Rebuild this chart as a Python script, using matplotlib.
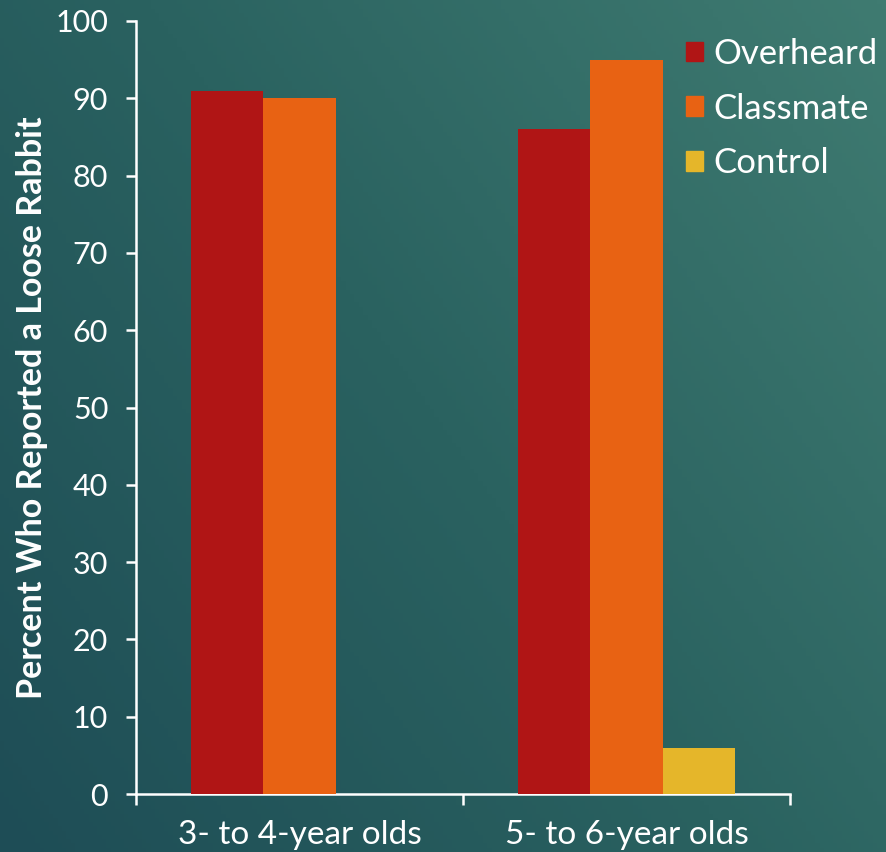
import numpy as np
import matplotlib
matplotlib.use("Agg")
from matplotlib import pyplot as plt
from matplotlib.patches import Patch
from matplotlib.colors import LinearSegmentedColormap

plt.rcParams['font.family'] = ['Lato', 'DejaVu Sans']

groups = ['3- to 4-year olds', '5- to 6-year olds']
series = ['Overheard', 'Classmate', 'Control']
overheard = [91, 86]
classmate = [90, 95]
control = [0, 6]
colors = ['#b01515', '#e86213', '#e5b62a']

fig = plt.figure(figsize=(8.86, 8.52), dpi=100)

# background gradient, dark bottom-left to lighter top-right
bg = fig.add_axes([0, 0, 1, 1], zorder=-10)
gx, gy = np.meshgrid(np.linspace(0, 1, 200), np.linspace(0, 1, 200))
grad = (gx * 0.6 + gy * 0.4)
cmap = LinearSegmentedColormap.from_list('bg', ['#1e4d56', '#2a6260', '#3f7b71'])
bg.imshow(grad, cmap=cmap, origin='lower', aspect='auto', extent=[0, 1, 0, 1])
bg.axis('off')

ax = fig.add_axes([136/886, 1-794/852, (790-136)/886, (794-21)/852])
ax.patch.set_alpha(0)

x = np.arange(len(groups))
w = 0.222
for i, (vals, name) in enumerate(zip([overheard, classmate, control], series)):
    ax.bar(x + (i-1)*w, vals, w, color=colors[i], label=name, zorder=3)

ax.set_xlim(-0.5, 1.5)
ax.set_ylim(0, 100)
ax.set_yticks(range(0, 101, 10))
ax.set_xticks([-0.5, 0.5, 1.5])
ax.set_xticklabels([])
ax.set_xticks(x, minor=True)
ax.set_xticklabels(groups, minor=True)

for s in ['top', 'right']:
    ax.spines[s].set_visible(False)
for s in ['left', 'bottom']:
    ax.spines[s].set_color('white')
    ax.spines[s].set_linewidth(1.8)

ax.tick_params(axis='y', colors='white', labelsize=22, length=7, width=1.8, pad=13)
ax.tick_params(axis='x', which='major', colors='white', length=8, width=1.8)
ax.tick_params(axis='x', which='minor', colors='white', length=0, labelsize=24, pad=19)

ax.set_ylabel('Percent Who Reported a Loose Rabbit', color='white',
              fontsize=24.5, fontweight='bold')
ax.yaxis.set_label_coords(-0.134, 0.5)

handles = [Patch(color=c) for c in colors]
leg = fig.legend(handles, series, loc='upper left', bbox_to_anchor=(686/886, 1-38/852),
                 frameon=False, fontsize=25, handlelength=0.49, handleheight=0.49,
                 handletextpad=0.3, labelspacing=0.65, borderaxespad=0, borderpad=0)
for t in leg.get_texts():
    t.set_color('white')

fig.savefig('out.png', dpi=100)
